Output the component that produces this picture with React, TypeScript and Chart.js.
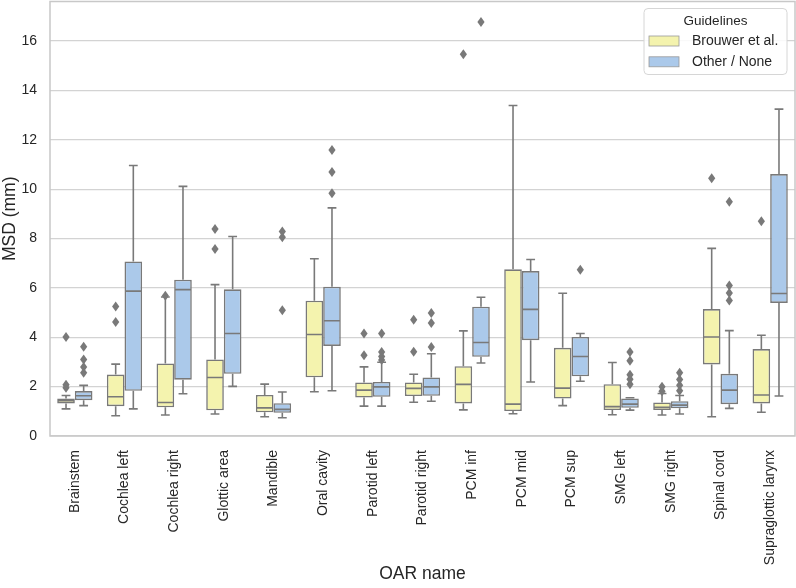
import React, { useEffect, useRef } from "react";
import { Chart, registerables } from "chart.js";

Chart.register(...registerables);

const categories = [
  "Brainstem", "Cochlea left", "Cochlea right", "Glottic area", "Mandible",
  "Oral cavity", "Parotid left", "Parotid right", "PCM inf", "PCM mid",
  "PCM sup", "SMG left", "SMG right", "Spinal cord", "Supraglottic larynx",
];

const seriesNames = ["Brouwer et al.", "Other / None"];
const legendTitle = "Guidelines";
const yTicks = [0, 2, 4, 6, 8, 10, 12, 14, 16];

// Brouwer et al. (yellow)
const brouwerLow = [1.10, 0.82, 0.85, 0.89, 0.78, 1.79, 1.21, 1.37, 1.06, 0.90, 1.23, 0.86, 0.85, 0.78, 0.96];
const brouwerQ1 = [1.32, 1.21, 1.16, 1.04, 0.96, 2.38, 1.56, 1.62, 1.32, 1.01, 1.52, 1.05, 1.05, 2.90, 1.32];
const brouwerMed = [1.43, 1.59, 1.36, 2.37, 1.14, 4.11, 1.86, 1.93, 2.09, 1.29, 1.94, 1.19, 1.16, 4.01, 1.66];
const brouwerQ3 = [1.52, 2.49, 2.94, 3.10, 1.66, 5.48, 2.17, 2.17, 2.83, 6.75, 3.57, 2.10, 1.36, 5.14, 3.52];
const brouwerHigh = [1.64, 2.91, 5.63, 6.13, 2.10, 7.18, 2.80, 2.50, 4.26, 13.39, 5.78, 2.98, 1.72, 7.60, 4.08];
const brouwerOutliers = [
  [1.95, 2.08, 4.01], [4.62, 5.25], [5.68], [7.57, 8.38], [], [], [3.27, 4.15], [3.41, 4.71],
  [15.46], [], [], [], [1.81, 1.99], [10.44], [8.70],
];

// Other / None (blue)
const otherLow = [1.23, 1.10, 1.71, 2.01, 0.74, 1.83, 1.21, 1.41, 2.96, 2.19, 2.22, 1.05, 0.89, 1.12, 1.62];
const otherQ1 = [1.45, 1.83, 2.28, 2.52, 0.94, 3.65, 1.59, 1.63, 3.21, 3.88, 2.42, 1.14, 1.12, 1.29, 5.39];
const otherMed = [1.63, 5.87, 5.93, 4.15, 1.08, 4.67, 1.99, 1.99, 3.79, 5.13, 3.22, 1.29, 1.25, 1.86, 5.77];
const otherQ3 = [1.82, 7.07, 6.33, 5.94, 1.33, 6.05, 2.19, 2.37, 5.24, 6.68, 4.01, 1.52, 1.41, 2.52, 10.61];
const otherHigh = [2.05, 10.96, 10.11, 8.08, 1.78, 9.24, 2.99, 3.33, 5.62, 7.15, 4.15, 1.55, 1.64, 4.27, 13.24];
const otherOutliers = [
  [2.56, 2.80, 3.10, 3.62], [], [], [], [5.09, 8.05, 8.28], [9.83, 10.69, 11.58],
  [3.08, 3.22, 3.40, 4.15], [3.61, 4.58, 4.98], [16.77], [], [6.73],
  [2.10, 2.30, 2.48, 3.05, 3.40], [1.83, 2.06, 2.29, 2.56], [5.49, 5.79, 6.10, 9.49], [],
];

const YELLOW = "#f4f3ae";
const BLUE = "#abc9ea";
const GRAY = "#797979";
const TEXT = "#262626";
const FONT = "'Liberation Sans', Arial, sans-serif";

const stats = [
  { low: brouwerLow, q1: brouwerQ1, med: brouwerMed, q3: brouwerQ3, high: brouwerHigh, out: brouwerOutliers },
  { low: otherLow, q1: otherQ1, med: otherMed, q3: otherQ3, high: otherHigh, out: otherOutliers },
];

const zeroPad = (s: any) => {
  s.paddingTop = 0;
  s.paddingBottom = 0;
  s.paddingLeft = 0;
  s.paddingRight = 0;
};

const boxPlugin = {
  id: "boxExtras",
  afterDatasetsDraw(chart: any) {
    const ctx = chart.ctx as CanvasRenderingContext2D;
    const y = chart.scales.y;
    const area = chart.chartArea;
    ctx.save();
    ctx.beginPath();
    ctx.rect(area.left, area.top, area.right - area.left, area.bottom - area.top);
    ctx.clip();
    stats.forEach((s, d) => {
      const meta = chart.getDatasetMeta(d);
      meta.data.forEach((bar: any, i: number) => {
        const { x, width } = bar.getProps(["x", "width"], true);
        const half = width / 2;
        const pLow = y.getPixelForValue(s.low[i]);
        const pQ1 = y.getPixelForValue(s.q1[i]);
        const pMed = y.getPixelForValue(s.med[i]);
        const pQ3 = y.getPixelForValue(s.q3[i]);
        const pHigh = y.getPixelForValue(s.high[i]);
        ctx.strokeStyle = GRAY;
        ctx.lineWidth = 1.6;
        ctx.lineCap = "butt";
        ctx.beginPath();
        ctx.moveTo(x, pQ1);
        ctx.lineTo(x, pLow);
        ctx.moveTo(x, pQ3);
        ctx.lineTo(x, pHigh);
        ctx.moveTo(x - half / 2, pLow);
        ctx.lineTo(x + half / 2, pLow);
        ctx.moveTo(x - half / 2, pHigh);
        ctx.lineTo(x + half / 2, pHigh);
        ctx.stroke();
        ctx.beginPath();
        ctx.moveTo(x - half + 0.8, pMed);
        ctx.lineTo(x + half - 0.8, pMed);
        ctx.stroke();
        ctx.fillStyle = GRAY;
        s.out[i].forEach((v: number) => {
          const py = y.getPixelForValue(v);
          ctx.beginPath();
          ctx.moveTo(x, py - 5);
          ctx.lineTo(x + 3.6, py);
          ctx.lineTo(x, py + 5);
          ctx.lineTo(x - 3.6, py);
          ctx.closePath();
          ctx.fill();
        });
      });
    });
    ctx.restore();

    // frame
    ctx.save();
    ctx.strokeStyle = "#c8c8c8";
    ctx.lineWidth = 1.5;
    ctx.strokeRect(area.left, area.top, area.right - area.left, area.bottom - area.top);
    ctx.restore();
  },
  afterDraw(chart: any) {
    const ctx = chart.ctx as CanvasRenderingContext2D;
    const area = chart.chartArea;
    const w = 143, h = 66;
    const lx = area.right - 8 - w;
    const ly = area.top + 7;
    ctx.save();
    ctx.beginPath();
    const r = 4;
    ctx.moveTo(lx + r, ly);
    ctx.arcTo(lx + w, ly, lx + w, ly + h, r);
    ctx.arcTo(lx + w, ly + h, lx, ly + h, r);
    ctx.arcTo(lx, ly + h, lx, ly, r);
    ctx.arcTo(lx, ly, lx + w, ly, r);
    ctx.closePath();
    ctx.fillStyle = "rgba(255,255,255,0.85)";
    ctx.fill();
    ctx.strokeStyle = "#d6d6d6";
    ctx.lineWidth = 1;
    ctx.stroke();

    ctx.fillStyle = TEXT;
    ctx.textBaseline = "middle";
    ctx.textAlign = "center";
    ctx.font = `13.5px ${FONT}`;
    ctx.fillText(legendTitle, lx + w / 2, ly + 12.5);
    ctx.textAlign = "left";
    ctx.font = `14px ${FONT}`;
    const colors = [YELLOW, BLUE];
    seriesNames.forEach((name, k) => {
      const cy = ly + 32.5 + k * 20.8;
      ctx.fillStyle = colors[k];
      ctx.fillRect(lx + 5, cy - 5, 30, 10);
      ctx.strokeStyle = "#9a9a9a";
      ctx.lineWidth = 0.8;
      ctx.strokeRect(lx + 5, cy - 5, 30, 10);
      ctx.fillStyle = TEXT;
      ctx.fillText(name, lx + 48, cy + 0.5);
    });
    ctx.restore();
  },
};

export default function App() {
  const ref = useRef<HTMLCanvasElement | null>(null);
  useEffect(() => {
    if (!ref.current) return;
    Chart.defaults.font.family = FONT;
    const chart = new Chart(ref.current, {
      type: "bar",
      data: {
        labels: categories,
        datasets: [
          {
            label: seriesNames[0],
            data: categories.map((_, i) => [brouwerQ1[i], brouwerQ3[i]]),
            backgroundColor: YELLOW,
            borderColor: GRAY,
            borderWidth: 1.6,
            borderSkipped: false,
            categoryPercentage: 0.71,
            barPercentage: 1.0,
          },
          {
            label: seriesNames[1],
            data: categories.map((_, i) => [otherQ1[i], otherQ3[i]]),
            backgroundColor: BLUE,
            borderColor: GRAY,
            borderWidth: 1.6,
            borderSkipped: false,
            categoryPercentage: 0.71,
            barPercentage: 1.0,
          },
        ] as any,
      },
      options: {
        animation: false,
        responsive: false,
        devicePixelRatio: 1,
        layout: { padding: { top: 1.5, right: 1, left: 0, bottom: 0 } },
        plugins: { legend: { display: false }, tooltip: { enabled: false } },
        scales: {
          x: {
            type: "category",
            grid: { display: false, drawTicks: false },
            border: { display: false },
            ticks: {
              autoSkip: false,
              maxRotation: 90,
              minRotation: 90,
              padding: 14,
              color: TEXT,
              font: { size: 14, family: FONT },
            },
            title: {
              display: true,
              text: "OAR name",
              color: TEXT,
              font: { size: 17.5, family: FONT },
              padding: { top: 0, bottom: 3 },
            },
            afterFit(s: any) {
              s.height = 152;
              zeroPad(s);
            },
          },
          y: {
            type: "linear",
            min: 0,
            max: 17.6,
            grid: { color: "#d3d3d3", lineWidth: 1.25, drawTicks: false },
            border: { display: false },
            afterBuildTicks(s: any) {
              s.ticks = yTicks.map((v) => ({ value: v }));
            },
            ticks: {
              padding: 13,
              color: TEXT,
              font: { size: 14, family: FONT },
            },
            title: {
              display: true,
              text: "MSD (mm)",
              color: TEXT,
              font: { size: 17.5, family: FONT },
              padding: { top: 0, bottom: 0 },
            },
            afterFit(s: any) {
              s.width = 50;
              zeroPad(s);
            },
          },
        },
      } as any,
      plugins: [boxPlugin],
    });
    return () => chart.destroy();
  }, []);
  return (
    <div style={{ position: "fixed", left: 0, top: 0, width: 796, height: 588, background: "#fff" }}>
      <canvas ref={ref} width={796} height={588} style={{ width: 796, height: 588, display: "block" }} />
    </div>
  );
}
